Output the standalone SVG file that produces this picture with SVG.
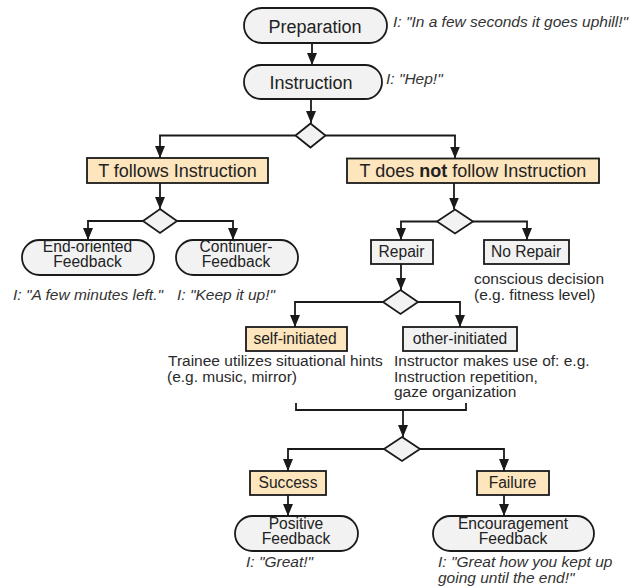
<svg xmlns="http://www.w3.org/2000/svg" width="639" height="587" viewBox="0 0 639 587">
<style>
.pill{fill:#f2f2f2;stroke:#1a1a1a;stroke-width:1.8}
.box{fill:#f2f2f2;stroke:#1a1a1a;stroke-width:1.8}
.obox{fill:#fde5bd;stroke:#1a1a1a;stroke-width:1.8}
.dia{fill:#f2f2f2;stroke:#1a1a1a;stroke-width:1.8}
.con{fill:none;stroke:#1a1a1a;stroke-width:1.8}
.big{font-family:"Liberation Sans",Arial,sans-serif;font-size:18px;fill:#222;text-anchor:middle}
.lbl{font-family:"Liberation Sans",Arial,sans-serif;font-size:15.6px;fill:#222;text-anchor:middle}
.note{font-family:"Liberation Sans",Arial,sans-serif;font-size:15.5px;fill:#2a2a2a}
.quote{font-family:"Liberation Sans",Arial,sans-serif;font-size:15.5px;font-style:italic;fill:#333}
</style>
<defs>
<marker id="ah" markerUnits="userSpaceOnUse" markerWidth="12" markerHeight="10" refX="12" refY="5" orient="auto">
<path d="M0,0 L12,5 L0,10 z" fill="#1a1a1a"/>
</marker>
</defs>
<rect width="639" height="587" fill="#ffffff"/>

<g id="connectors">
<path class="con" d="M312,43 V65" marker-end="url(#ah)"/>
<path class="con" d="M311,99 V123" marker-end="url(#ah)"/>
<path class="con" d="M295.5,135.5 H160 V158" marker-end="url(#ah)"/>
<path class="con" d="M325.5,135.5 H455 V158.5" marker-end="url(#ah)"/>
<path class="con" d="M160,183 V209" marker-end="url(#ah)"/>
<path class="con" d="M143,221 H88 V240" marker-end="url(#ah)"/>
<path class="con" d="M177,221 H233 V240" marker-end="url(#ah)"/>
<path class="con" d="M454,183 V209.5" marker-end="url(#ah)"/>
<path class="con" d="M437,221.5 H401 V240" marker-end="url(#ah)"/>
<path class="con" d="M473,221.5 H527 V240" marker-end="url(#ah)"/>
<path class="con" d="M401,264 V290" marker-end="url(#ah)"/>
<path class="con" d="M383,302 H295 V327" marker-end="url(#ah)"/>
<path class="con" d="M418,302 H460 V327" marker-end="url(#ah)"/>
<path class="con" d="M296,403 V410 H466 V403"/>
<path class="con" d="M403,410 V437" marker-end="url(#ah)"/>
<path class="con" d="M384,449 H288 V471" marker-end="url(#ah)"/>
<path class="con" d="M420,449 H504 V471" marker-end="url(#ah)"/>
<path class="con" d="M288,495 V516" marker-end="url(#ah)"/>
<path class="con" d="M504,495 V516" marker-end="url(#ah)"/>
</g>

<g id="preparation">
<rect class="pill" x="244" y="8" width="143" height="35" rx="17.5"/>
<text class="big" x="315" y="33">Preparation</text>
<text class="quote" x="393" y="27">I: "In a few seconds it goes uphill!"</text>
</g>

<g id="instruction">
<rect class="pill" x="244" y="65" width="138" height="34" rx="17"/>
<text class="big" x="311" y="89">Instruction</text>
<text class="quote" x="386" y="84">I: "Hep!"</text>
</g>

<g id="decision1">
<polygon class="dia" points="310.5,123.5 325.5,135.5 310.5,147.5 295.5,135.5"/>
</g>

<g id="t-follows">
<rect class="obox" x="87" y="158" width="181" height="25"/>
<text class="big" x="177.5" y="177">T follows Instruction</text>
</g>

<g id="t-not-follows">
<rect class="obox" x="347" y="158.5" width="252" height="24.5"/>
<text class="big" x="473" y="177">T does <tspan font-weight="bold">not</tspan> follow Instruction</text>
</g>

<g id="decision2">
<polygon class="dia" points="160,209 177,221 160,233 143,221"/>
</g>

<g id="end-oriented">
<rect class="pill" x="22" y="240" width="132" height="35" rx="17.5"/>
<text class="lbl" x="87.5" y="252">End-oriented</text>
<text class="lbl" x="87.5" y="267">Feedback</text>
<text class="quote" x="13" y="300">I: "A few minutes left."</text>
</g>

<g id="continuer">
<rect class="pill" x="176" y="240" width="122" height="35" rx="17.5"/>
<text class="lbl" x="236" y="252">Continuer-</text>
<text class="lbl" x="236" y="267">Feedback</text>
<text class="quote" x="177" y="300">I: "Keep it up!"</text>
</g>

<g id="decision3">
<polygon class="dia" points="455,209.5 473,221.5 455,233.5 437,221.5"/>
</g>

<g id="repair">
<rect class="box" x="371" y="240" width="62" height="24"/>
<text class="lbl" x="401.5" y="257">Repair</text>
</g>

<g id="no-repair">
<rect class="box" x="484" y="240" width="85" height="24"/>
<text class="lbl" x="526" y="257">No Repair</text>
<text class="note" x="474" y="284">conscious decision</text>
<text class="note" x="474" y="300">(e.g. fitness level)</text>
</g>

<g id="decision4">
<polygon class="dia" points="400.5,290 418,302 400.5,314 383,302"/>
</g>

<g id="self-initiated">
<rect class="obox" x="246" y="327" width="101" height="24"/>
<text class="lbl" x="295" y="344">self-initiated</text>
<text class="note" x="168" y="366">Trainee utilizes situational hints</text>
<text class="note" x="167" y="382">(e.g. music, mirror)</text>
</g>

<g id="other-initiated">
<rect class="box" x="403" y="327" width="114" height="24"/>
<text class="lbl" x="460" y="344">other-initiated</text>
<text class="note" x="394" y="366">Instructor makes use of: e.g.</text>
<text class="note" x="394" y="382">Instruction repetition,</text>
<text class="note" x="394" y="397">gaze organization</text>
</g>

<g id="decision5">
<polygon class="dia" points="402,437 420,449 402,461 384,449"/>
</g>

<g id="success">
<rect class="obox" x="250" y="471" width="76" height="24"/>
<text class="lbl" x="288" y="488">Success</text>
</g>

<g id="failure">
<rect class="obox" x="477" y="471" width="72" height="24"/>
<text class="lbl" x="512.5" y="488">Failure</text>
</g>

<g id="positive-feedback">
<rect class="pill" x="235" y="516" width="123" height="35" rx="17.5"/>
<text class="lbl" x="296" y="528.5">Positive</text>
<text class="lbl" x="296" y="543.5">Feedback</text>
<text class="quote" x="246" y="567">I: "Great!"</text>
</g>

<g id="encouragement-feedback">
<rect class="pill" x="433" y="516" width="161" height="35" rx="17.5"/>
<text class="lbl" x="513" y="528.5">Encouragement</text>
<text class="lbl" x="513" y="543.5">Feedback</text>
<text class="quote" x="438" y="567">I: "Great how you kept up</text>
<text class="quote" x="438" y="583">going until the end!"</text>
</g>
</svg>
